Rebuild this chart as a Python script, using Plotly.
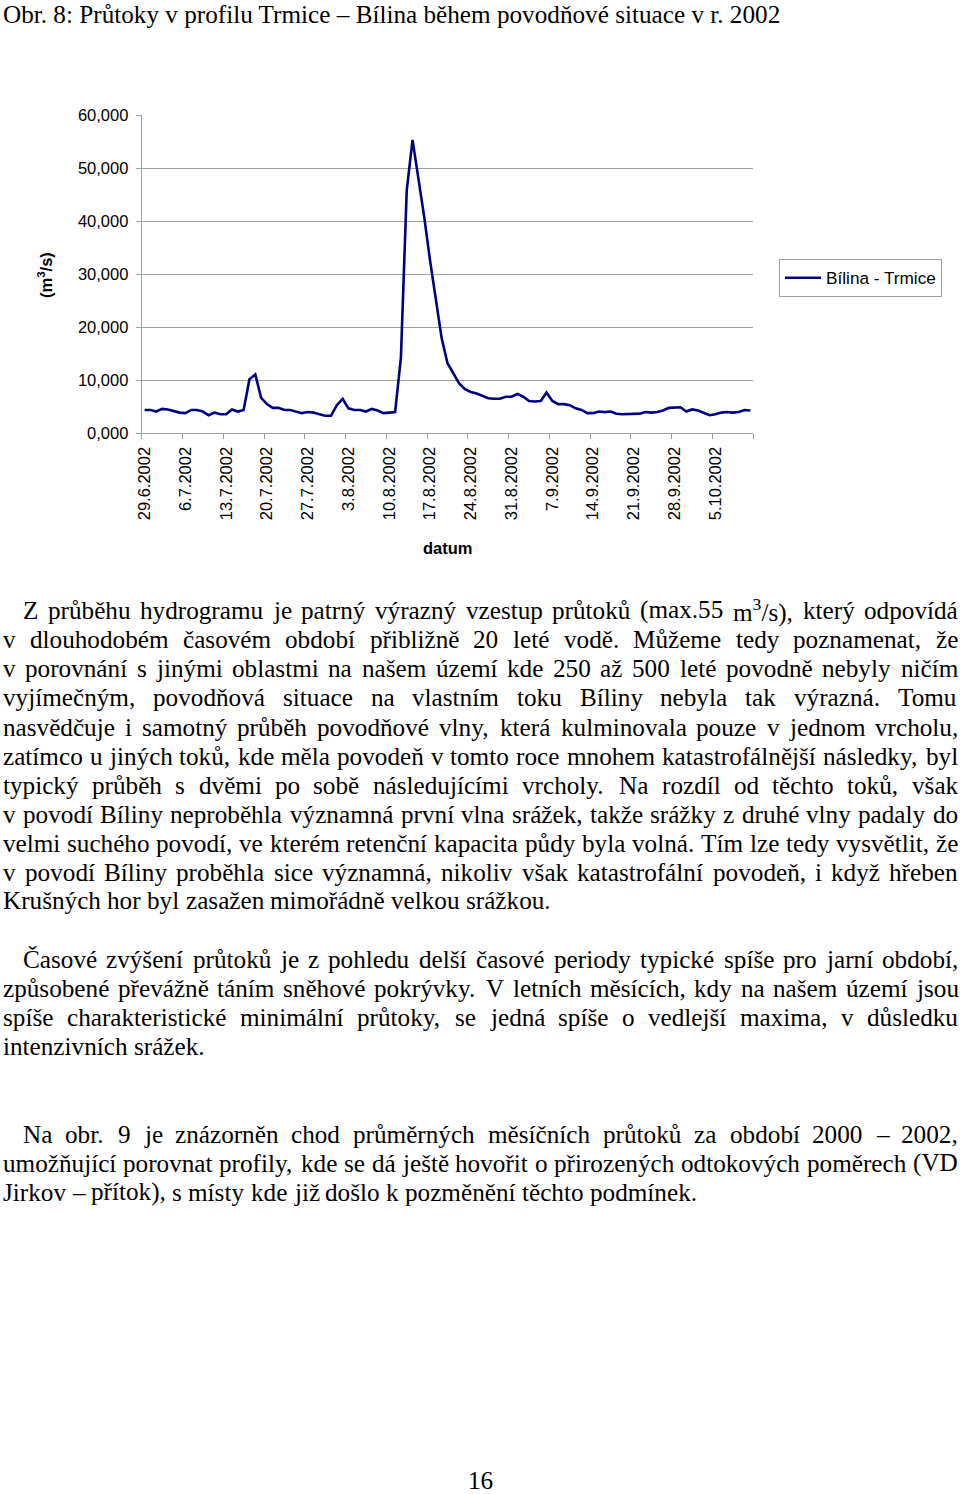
import re
import unicodedata
import pandas as pd
import plotly.graph_objects as go

# ---------------- data ----------------
start_date = "2002-06-29"
flow = [4.4, 4.4, 4.1, 4.6, 4.5, 4.2, 3.9, 3.8, 4.4, 4.4, 4.1, 3.4, 3.9, 3.6, 3.6, 4.5, 4.1, 4.4,
        10.2, 11.1, 6.7, 5.5, 4.8, 4.8, 4.4, 4.4, 4.1, 3.8, 4.0, 3.9, 3.6, 3.3, 3.3, 5.3, 6.5, 4.7,
        4.4, 4.4, 4.1, 4.6, 4.3, 3.8, 3.9, 4.0,
        14.2, 45.8, 55.3, 48.3, 40.8, 32.6, 25.1, 17.9, 13.2, 11.2, 9.4, 8.3, 7.8, 7.5, 7.1, 6.6,
        6.5, 6.5, 6.9, 6.9, 7.4, 6.9, 6.1, 6.0, 6.1, 7.7, 6.1, 5.5, 5.5, 5.3, 4.7, 4.4, 3.8, 3.8,
        4.1, 4.0, 4.1, 3.7, 3.6, 3.6, 3.7, 3.7, 4.0, 3.9, 4.0, 4.3, 4.8, 4.9, 4.9, 4.1, 4.5, 4.3,
        3.9, 3.4, 3.6, 3.9, 4.0, 3.9, 4.0, 4.4, 4.3]
tick_labels = ["29.6.2002", "6.7.2002", "13.7.2002", "20.7.2002", "27.7.2002", "3.8.2002",
               "10.8.2002", "17.8.2002", "24.8.2002", "31.8.2002", "7.9.2002", "14.9.2002",
               "21.9.2002", "28.9.2002", "5.10.2002"]
y_ticks = [0, 10, 20, 30, 40, 50, 60]
series_name = "Bílina - Trmice"

title_text = "Obr. 8: Průtoky v profilu Trmice – Bílina během povodňové situace v r. 2002"
# (text, justified, indented)
body_lines = [
    ("Z průběhu hydrogramu je patrný výrazný vzestup průtoků (max.55 m<sup>3</sup>/s), který odpovídá", True, True),
    ("v dlouhodobém časovém období přibližně 20 leté vodě. Můžeme tedy poznamenat, že", True, False),
    ("v porovnání s jinými oblastmi na našem území kde 250 až 500 leté povodně nebyly ničím", True, False),
    ("vyjímečným, povodňová situace na vlastním toku Bíliny nebyla tak výrazná. Tomu", True, False),
    ("nasvědčuje i samotný průběh povodňové vlny, která kulminovala pouze v jednom vrcholu,", True, False),
    ("zatímco u jiných toků, kde měla povodeň v tomto roce mnohem katastrofálnější následky, byl", True, False),
    ("typický průběh s dvěmi po sobě následujícími vrcholy. Na rozdíl od těchto toků, však", True, False),
    ("v povodí Bíliny neproběhla významná první vlna srážek, takže srážky z druhé vlny padaly do", True, False),
    ("velmi suchého povodí, ve kterém retenční kapacita půdy byla volná. Tím lze tedy vysvětlit, že", True, False),
    ("v povodí Bíliny proběhla sice významná, nikoliv však katastrofální povodeň, i když hřeben", True, False),
    ("Krušných hor byl zasažen mimořádně velkou srážkou.", False, False),
    ("Časové zvýšení průtoků je z pohledu delší časové periody typické spíše pro jarní období,", True, True),
    ("způsobené převážně táním sněhové pokrývky. V letních měsících, kdy na našem území jsou", True, False),
    ("spíše charakteristické minimální průtoky, se jedná spíše o vedlejší maxima, v důsledku", True, False),
    ("intenzivních srážek.", False, False),
    ("Na obr. 9 je znázorněn chod průměrných měsíčních průtoků za období 2000 – 2002,", True, True),
    ("umožňující porovnat profily, kde se dá ještě hovořit o přirozených odtokových poměrech (VD", True, False),
    ("Jirkov – přítok), s místy kde již došlo k pozměnění těchto podmínek.", False, False),
]
body_y = [610, 639, 668, 697, 727, 756, 785, 814, 843, 872, 901,
          959, 988, 1017, 1046,
          1134, 1163, 1192]
page_number = "16"

# ---------------- page geometry ----------------
W_PX, H_PX = 960, 1494
PLOT_L, PLOT_R, PLOT_T, PLOT_B = 141.7, 753.3, 115.0, 433.3
TEXT_L, TEXT_R, INDENT = 2.0, 957.0, 20.0
FS = 25.2
SERIF = "Liberation Serif, Times New Roman, serif"
SANS = "Liberation Sans, Arial, sans-serif"
AX_FS = 16.5
GRID = "#a0a0a0"
LINE_COL = "#000080"

def px(x):
    return x / W_PX

def py(y):
    return 1 - y / H_PX

# Times (Liberation Serif) advance widths, 1/1000 em
TW = {' ': 250, '.': 250, ',': 250, ':': 278, ';': 278, '(': 333, ')': 333, '/': 278,
      '-': 333, '–': 500,
      'a': 444, 'b': 500, 'c': 444, 'd': 500, 'e': 444, 'f': 333, 'g': 500, 'h': 500,
      'i': 278, 'j': 278, 'k': 500, 'l': 278, 'm': 778, 'n': 500, 'o': 500, 'p': 500,
      'q': 500, 'r': 333, 's': 389, 't': 278, 'u': 500, 'v': 500, 'w': 722, 'x': 500,
      'y': 500, 'z': 444,
      'A': 722, 'B': 667, 'C': 667, 'D': 722, 'E': 611, 'F': 556, 'G': 722, 'H': 722,
      'I': 333, 'J': 389, 'K': 722, 'L': 611, 'M': 889, 'N': 722, 'O': 722, 'P': 556,
      'Q': 722, 'R': 667, 'S': 556, 'T': 611, 'U': 722, 'V': 722, 'W': 944, 'X': 722,
      'Y': 722, 'Z': 611}
for d in "0123456789":
    TW[d] = 500

def cw(ch):
    if ch in TW:
        return TW[ch]
    base = unicodedata.normalize("NFD", ch)[0]
    return TW.get(base, 500)

def word_width(word, fs):
    tot = 0.0
    for part in re.split(r"(<sup>.*?</sup>)", word):
        if part.startswith("<sup>"):
            tot += 0.7 * sum(cw(c) for c in part[5:-6])
        else:
            tot += sum(cw(c) for c in part)
    return tot * fs / 1000.0

annotations = []

def add_text(text, x, y, font, **kw):
    d = dict(text=text, x=px(x), y=py(y), xref="paper", yref="paper",
             showarrow=False, xanchor="left", yanchor="middle", font=font,
             borderpad=0)
    d.update(kw)
    annotations.append(d)

body_font = dict(family=SERIF, size=FS, color="black")

# title
add_text(title_text, TEXT_L, 14, body_font)

# body text, justified word by word
for (line, justify, indent), yy in zip(body_lines, body_y):
    words = line.split(" ")
    left = TEXT_L + (INDENT if indent else 0)
    widths = [word_width(w, FS) for w in words]
    if justify and len(words) > 1:
        gap = (TEXT_R - left - sum(widths)) / (len(words) - 1)
    else:
        gap = TW[' '] * FS / 1000.0
    xx = left
    for w, wd in zip(words, widths):
        add_text(w, xx, yy, body_font)
        xx += wd + gap

# page number
annotations.append(dict(text=page_number, x=px(480), y=py(1480), xref="paper", yref="paper",
                        showarrow=False, xanchor="center", yanchor="middle", font=body_font,
                        borderpad=0))

# chart labels
annotations.append(dict(text="<b>datum</b>", x=px(448), y=py(548), xref="paper", yref="paper",
                        showarrow=False, xanchor="center", yanchor="middle",
                        font=dict(family=SANS, size=AX_FS, color="black")))
annotations.append(dict(text="<b>(m<sup>3</sup>/s)</b>", x=px(45), y=py(275), xref="paper",
                        yref="paper", showarrow=False, xanchor="center", yanchor="middle",
                        textangle=-90, font=dict(family=SANS, size=AX_FS, color="black")))

# ---------------- chart ----------------
dates = pd.date_range(start_date, periods=len(flow), freq="D")
half = pd.Timedelta(hours=12)
x_range = [dates[0] - half, dates[-1] + half]
tick_vals = list(dates[::7][:len(tick_labels)])
boundary_vals = [d - half for d in dates[::7]] + [dates[-1] + half]

fig = go.Figure()
fig.add_trace(go.Scatter(x=dates, y=flow, mode="lines", name=series_name,
                         line=dict(color=LINE_COL, width=2.6)))
# invisible copy on the overlay axis that carries the boundary tick marks
fig.add_trace(go.Scatter(x=dates, y=flow, mode="lines", xaxis="x2", showlegend=False,
                         hoverinfo="skip", line=dict(color="rgba(0,0,0,0)", width=0)))

fig.update_layout(
    width=W_PX, height=H_PX,
    margin=dict(l=0, r=0, t=0, b=0),
    paper_bgcolor="white", plot_bgcolor="white",
    separators=", ",
    showlegend=True,
    annotations=annotations,
    legend=dict(x=px(779), y=py(259), xanchor="left", yanchor="top",
                bgcolor="white", bordercolor=GRID, borderwidth=1,
                font=dict(family=SANS, size=17.2, color="black"),
                itemwidth=36, tracegroupgap=0),
    xaxis=dict(domain=[px(PLOT_L), px(PLOT_R)], range=x_range, type="date",
               tickmode="array", tickvals=tick_vals, ticktext=tick_labels,
               tickangle=-90, ticks="", showgrid=False, zeroline=False,
               showline=True, linecolor=GRID, linewidth=1,
               tickfont=dict(family=SANS, size=AX_FS, color="black"),
               ticklabelstandoff=6, automargin=False, anchor="y"),
    xaxis2=dict(domain=[px(PLOT_L), px(PLOT_R)], range=x_range, type="date",
                overlaying="x", anchor="y", side="bottom",
                tickmode="array", tickvals=boundary_vals, ticks="outside", ticklen=5,
                tickcolor=GRID, tickwidth=1, showticklabels=False, showgrid=False,
                zeroline=False, showline=False, automargin=False),
    yaxis=dict(domain=[py(PLOT_B), py(PLOT_T)], range=[0, 60],
               tickmode="array", tickvals=y_ticks, tickformat=".3f",
               ticks="outside", ticklen=5, tickcolor=GRID, tickwidth=1,
               showgrid=True, gridcolor=GRID, gridwidth=1, zeroline=False,
               showline=True, linecolor=GRID, linewidth=1,
               tickfont=dict(family=SANS, size=AX_FS, color="black"),
               ticklabelstandoff=4, automargin=False),
)

fig.write_html("out.html")
